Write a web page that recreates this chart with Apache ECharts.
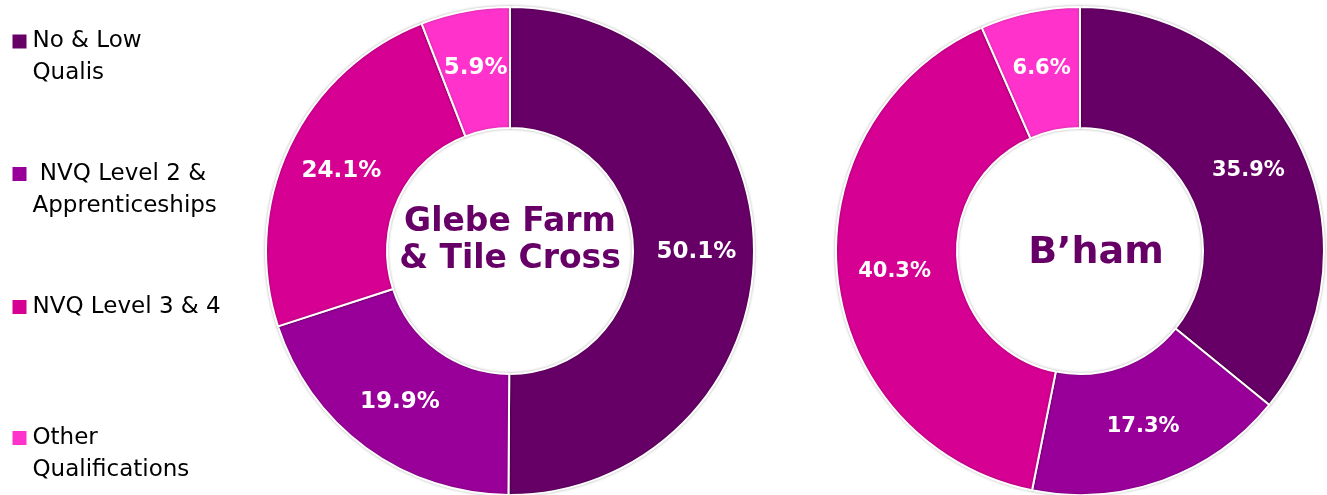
<!DOCTYPE html>
<html>
<head>
<meta charset="utf-8">
<script src="https://cdn.jsdelivr.net/npm/echarts@6/dist/echarts.min.js"></script>
<style>
html,body{margin:0;padding:0;background:#fff;}
#chart{width:1327px;height:495px;}
</style>
</head>
<body>
<div id="chart"></div>
<script>
// Data
var categories = ['No & Low\nQualis', ' NVQ Level 2 &\nApprenticeships', 'NVQ Level 3 & 4', 'Other\nQualifications'];
var glebeValues = [50.1, 19.9, 24.1, 5.9];
var bhamValues = [35.9, 17.3, 40.3, 6.6];
var areaTitles = ['Glebe Farm\n& Tile Cross', 'B\u2019ham'];
var colors = ['#660066', '#990099', '#D60093', '#FF33CC'];

var FONT = 'DejaVu Sans, Verdana, sans-serif';

function makeData(vals) {
  return categories.map(function (c, i) { return { name: c, value: vals[i] }; });
}

function makeSeries(vals, cx, labelSize) {
  return {
    type: 'pie',
    center: [cx, 251],
    radius: [123, 244],
    startAngle: 90,
    clockwise: true,
    avoidLabelOverlap: false,
    silent: true,
    itemStyle: {
      borderColor: '#ffffff',
      borderWidth: 2,
      shadowBlur: 3,
      shadowColor: 'rgba(0,0,0,0.25)'
    },
    label: {
      show: true,
      position: 'inside',
      color: '#ffffff',
      fontFamily: FONT,
      fontWeight: 'bold',
      fontSize: labelSize,
      formatter: function (p) { return p.value.toFixed(1) + '%'; }
    },
    labelLine: { show: false },
    data: makeData(vals)
  };
}

// legend tops chosen so the icon lines up with the first text line
var legendTops = [-6.5, 126, 291, 390];
var legends = categories.map(function (c, i) {
  return {
    orient: 'vertical',
    left: 10.5,
    top: legendTops[i],
    padding: 0,
    icon: 'rect',
    itemWidth: 16,
    itemHeight: 16,
    selectedMode: false,
    data: [c],
    formatter: function (name) {
      return name.indexOf('\n') >= 0 ? ' \n' + name : name;
    },
    textStyle: {
      fontFamily: FONT,
      fontSize: 23,
      color: '#000000',
      lineHeight: 32
    }
  };
});

var chart = echarts.init(document.getElementById('chart'), null, { renderer: 'canvas' });
chart.setOption({
  color: colors,
  animation: false,
  legend: legends,
  series: [
    makeSeries(glebeValues, 510, 23),
    makeSeries(bhamValues, 1080, 21)
  ],
  graphic: [
    {
      type: 'text',
      x: 510,
      y: 241,
      style: {
        text: areaTitles[0],
        align: 'center',
        verticalAlign: 'middle',
        fill: '#660066',
        font: 'bold 33px ' + FONT,
        lineHeight: 37
      }
    },
    {
      type: 'text',
      x: 1096,
      y: 253,
      style: {
        text: areaTitles[1],
        align: 'center',
        verticalAlign: 'middle',
        fill: '#660066',
        font: 'bold 38px ' + FONT
      }
    }
  ]
});
</script>
</body>
</html>
